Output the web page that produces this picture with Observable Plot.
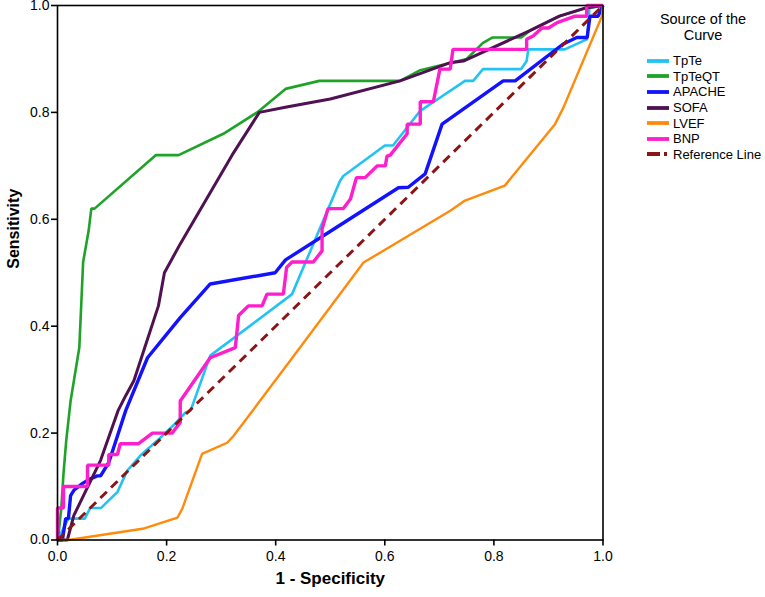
<!DOCTYPE html>
<html>
<head>
<meta charset="utf-8">
<script src="https://cdn.jsdelivr.net/npm/d3@7"></script>
<script src="https://cdn.jsdelivr.net/npm/@observablehq/plot@0.6"></script>
<style>
  body { margin: 0; background: #fff; font-family: "Liberation Sans", Arial, sans-serif; }
  #wrap { position: relative; width: 765px; height: 597px; }
  #legend { position: absolute; left: 640px; top: 11px; width: 125px; color: #000; }
  #legend .title { font-size: 14.5px; line-height: 16px; text-align: center; width: 126px; margin-bottom: 10px; }
  #legend .row { height: 15.6px; display: flex; align-items: center; font-size: 13px; white-space: nowrap; }
  #legend svg { margin-left: 7px; margin-right: 4px; }
</style>
</head>
<body>
<div id="wrap"><div id="chart"></div><div id="legend"></div></div>
<script>
// ---- data (1 - specificity, sensitivity) ----
const TpTe = [[0,0],[0.015,0.03],[0.02,0.04],[0.05,0.04],[0.06,0.06],[0.08,0.06],[0.11,0.09],[0.128,0.13],[0.152,0.158],[0.183,0.186],[0.216,0.218],[0.234,0.238],[0.244,0.242],[0.28,0.345],[0.421,0.453],[0.43,0.46],[0.518,0.672],[0.524,0.681],[0.60,0.738],[0.615,0.738],[0.665,0.803],[0.69,0.82],[0.747,0.859],[0.762,0.859],[0.78,0.881],[0.85,0.881],[0.86,0.896],[0.863,0.918],[0.93,0.918],[0.971,0.937],[0.975,0.995],[1,1]];
const TpTeQT = [[0,0],[0.002,0.012],[0.007,0.06],[0.011,0.124],[0.016,0.186],[0.024,0.26],[0.040,0.36],[0.047,0.52],[0.057,0.578],[0.062,0.62],[0.068,0.62],[0.18,0.72],[0.222,0.72],[0.304,0.76],[0.366,0.80],[0.418,0.844],[0.48,0.859],[0.628,0.859],[0.665,0.879],[0.75,0.90],[0.78,0.93],[0.797,0.94],[0.85,0.94],[0.866,0.953],[0.92,0.98],[0.97,0.996],[1,1]];
const APACHE = [[0,0],[0.009,0],[0.015,0.04],[0.02,0.04],[0.024,0.083],[0.03,0.093],[0.046,0.106],[0.057,0.113],[0.073,0.12],[0.079,0.12],[0.094,0.145],[0.103,0.173],[0.125,0.242],[0.165,0.341],[0.225,0.416],[0.28,0.479],[0.399,0.5],[0.418,0.524],[0.524,0.593],[0.625,0.659],[0.643,0.66],[0.674,0.685],[0.705,0.778],[0.817,0.859],[0.839,0.859],[0.927,0.928],[0.952,0.94],[0.971,0.94],[0.976,0.98],[0.991,0.98],[1,1]];
const SOFA = [[0,0],[0.018,0],[0.03,0.046],[0.079,0.149],[0.111,0.242],[0.125,0.27],[0.14,0.298],[0.185,0.438],[0.196,0.5],[0.225,0.554],[0.32,0.72],[0.37,0.80],[0.42,0.81],[0.5,0.825],[0.628,0.859],[0.72,0.893],[0.744,0.896],[0.866,0.953],[0.92,0.98],[0.97,0.996],[1,1]];
const LVEF = [[0,0],[0.02,0],[0.156,0.021],[0.22,0.042],[0.229,0.059],[0.265,0.161],[0.311,0.182],[0.323,0.195],[0.424,0.332],[0.522,0.466],[0.561,0.519],[0.628,0.56],[0.72,0.616],[0.747,0.635],[0.82,0.663],[0.912,0.778],[0.927,0.808],[0.998,0.98],[1,1]];
const BNP = [[0,0],[0,0.06],[0.011,0.06],[0.011,0.10],[0.055,0.10],[0.055,0.14],[0.094,0.14],[0.094,0.16],[0.11,0.16],[0.115,0.18],[0.148,0.18],[0.174,0.20],[0.21,0.20],[0.225,0.22],[0.225,0.26],[0.28,0.341],[0.326,0.36],[0.332,0.42],[0.35,0.438],[0.375,0.438],[0.384,0.46],[0.414,0.46],[0.42,0.51],[0.43,0.52],[0.469,0.52],[0.485,0.541],[0.485,0.582],[0.496,0.62],[0.524,0.62],[0.537,0.638],[0.548,0.678],[0.564,0.678],[0.586,0.70],[0.601,0.70],[0.604,0.718],[0.61,0.72],[0.641,0.76],[0.641,0.778],[0.665,0.778],[0.665,0.82],[0.689,0.82],[0.701,0.881],[0.72,0.881],[0.725,0.918],[0.86,0.918],[0.86,0.937],[0.872,0.943],[0.888,0.958],[0.9,0.958],[0.916,0.968],[0.949,0.98],[0.97,0.98],[0.97,1.0],[1,1]];
const ReferenceLine = [[0,0],[1,1]];

const seriesNames = ["TpTe","TpTeQT","APACHE","SOFA","LVEF","BNP","Reference Line"];
const seriesData = [TpTe, TpTeQT, APACHE, SOFA, LVEF, BNP, ReferenceLine];
const seriesColors = ["#22c3f3","#1ea328","#1212ff","#4f1152","#ff8a0c","#ff1ecb","#8b1414"];
const seriesWidths = [2.6, 2.6, 3.4, 3, 2.4, 3.4, 3];
const xTicks = [0, 0.2, 0.4, 0.6, 0.8, 1.0];
const yTicks = [0, 0.2, 0.4, 0.6, 0.8, 1.0];
const xLabel = "1 - Specificity";
const yLabel = "Sensitivity";
const legendTitle = ["Source of the", "Curve"];

const lineMarks = seriesData.map((data, i) => Plot.line(data, {
  x: d => d[0], y: d => d[1],
  stroke: seriesColors[i], strokeWidth: seriesWidths[i],
  strokeDasharray: seriesNames[i] === "Reference Line" ? "9,6" : null,
  strokeLinejoin: "miter", strokeLinecap: "butt"
}));

const chart = Plot.plot({
  width: 765, height: 597,
  marginLeft: 57, marginRight: 162.5, marginTop: 5, marginBottom: 57.5,
  style: { fontFamily: "'Liberation Sans', Arial, sans-serif", color: "#000", background: "#fff", overflow: "visible" },
  x: { domain: [0, 1] },
  y: { domain: [0, 1] },
  marks: [
    ...lineMarks,
    Plot.frame({ stroke: "#000", strokeWidth: 1.6 }),
    Plot.axisX({ ticks: xTicks, tickFormat: d3.format(".1f"), tickSize: 6, tickPadding: 5, fontSize: 14, strokeWidth: 1.6, label: null }),
    Plot.axisY({ ticks: yTicks, tickFormat: d3.format(".1f"), tickSize: 6, tickPadding: 2, fontSize: 14, strokeWidth: 1.6, label: null }),
    Plot.text([xLabel], { frameAnchor: "bottom", dy: 44, fontSize: 17, fontWeight: "bold", letterSpacing: "0.4px" }),
    Plot.text([yLabel], { frameAnchor: "left", dx: -44, dy: -4, rotate: -90, fontSize: 16, fontWeight: "bold", letterSpacing: "0.4px" })
  ]
});
document.getElementById("chart").appendChild(chart);

// ---- legend (HTML) ----
const legend = document.getElementById("legend");
const t = document.createElement("div");
t.className = "title";
t.innerHTML = legendTitle.join("<br>");
legend.appendChild(t);
seriesNames.forEach((name, i) => {
  const row = document.createElement("div");
  row.className = "row";
  const dash = name === "Reference Line" ? 'stroke-dasharray="13,4,3,10"' : "";
  row.innerHTML = `<svg width="22" height="6"><line x1="0" y1="3" x2="22" y2="3" stroke="${seriesColors[i]}" stroke-width="3.8" ${dash}/></svg><span>${name}</span>`;
  legend.appendChild(row);
});
</script>
</body>
</html>
